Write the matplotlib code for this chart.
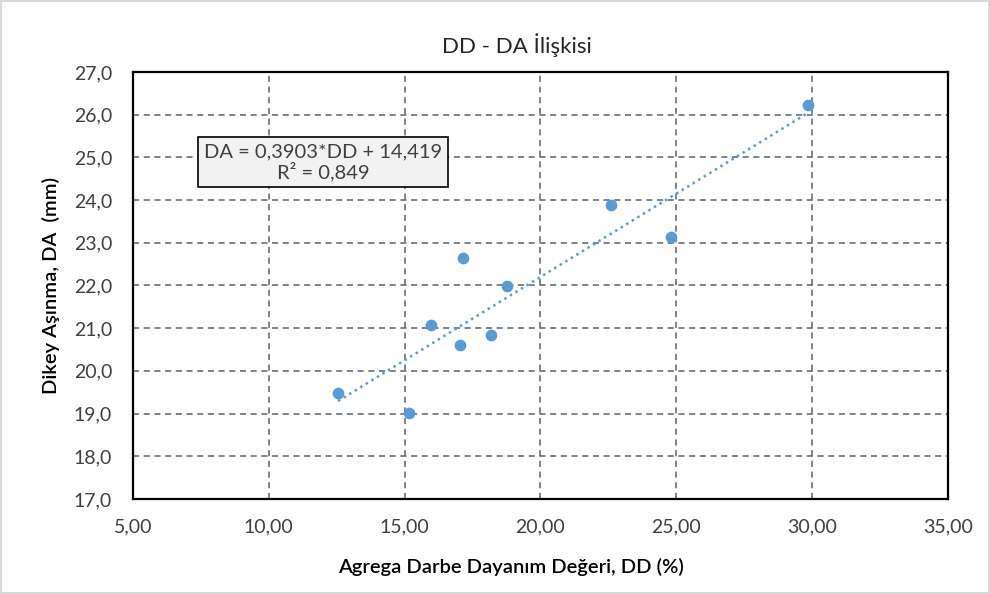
import numpy as np
import matplotlib.pyplot as plt
from matplotlib.ticker import FuncFormatter

# data
dd = [12.55, 15.16, 15.97, 17.04, 17.15, 18.18, 18.77, 22.59, 24.80, 29.84]
da = [19.48, 19.01, 21.07, 20.61, 22.64, 20.84, 21.99, 23.89, 23.14, 26.23]
x_ticks = [5, 10, 15, 20, 25, 30, 35]
y_ticks = [17, 18, 19, 20, 21, 22, 23, 24, 25, 26, 27]

plt.rcParams['font.family'] = ['Lato', 'DejaVu Sans']

fig = plt.figure(figsize=(9.9, 5.94), dpi=100)
ax = fig.add_axes([0.1343, 0.16, 0.8233, 0.7188])

blue = '#5B9BD5'
ax.scatter(dd, da, s=55, color=blue, zorder=3)

# linear trendline
k, b = np.polyfit(dd, da, 1)
xs = np.array([min(dd), max(dd)])
ax.plot(xs, k * xs + b, color=blue, lw=1.8, ls=(0, (1, 1.6)), zorder=2)

ax.set_xlim(5, 35)
ax.set_ylim(17, 27)
ax.set_xticks(x_ticks)
ax.set_yticks(y_ticks)
ax.xaxis.set_major_formatter(FuncFormatter(lambda v, p: f'{v:.2f}'.replace('.', ',')))
ax.yaxis.set_major_formatter(FuncFormatter(lambda v, p: f'{v:.1f}'.replace('.', ',')))
ax.tick_params(length=0, labelsize=14, colors='#404040')
ax.tick_params(axis='x', pad=14)
ax.tick_params(axis='y', pad=15)
ax.grid(True, ls=(0, (4, 3)), color='#5a6270', lw=1.1)
ax.set_axisbelow(True)
for s in ax.spines.values():
    s.set_linewidth(1.6)
    s.set_color('black')

ax.set_title('DD - DA İlişkisi', fontsize=16, color='#262626', pad=14, x=0.471)
ax.set_xlabel('Agrega Darbe Dayanım Değeri, DD (%)', fontsize=14.5, color='black',
              fontweight='semibold')
ax.set_ylabel('Dikey Aşınma, DA  (mm)', fontsize=14.5, color='black',
              labelpad=10, fontweight='semibold')
ax.xaxis.set_label_coords(0.464, -0.138)

ax.text(12.0, 24.89, 'DA = 0,3903*DD + 14,419\nR² = 0,849', ha='center', va='center',
        fontsize=14.5, color='#404040', linespacing=1.1,
        bbox=dict(boxstyle='square,pad=0.3', fc='#f2f2f2', ec='black', lw=1.2))

# light outer border like Excel chart area
fig.patches.append(plt.Rectangle((0.001, 0.001), 0.998, 0.998, transform=fig.transFigure,
                                 fill=False, ec='#d9d9d9', lw=1.5))

fig.savefig('out.png', dpi=100)
